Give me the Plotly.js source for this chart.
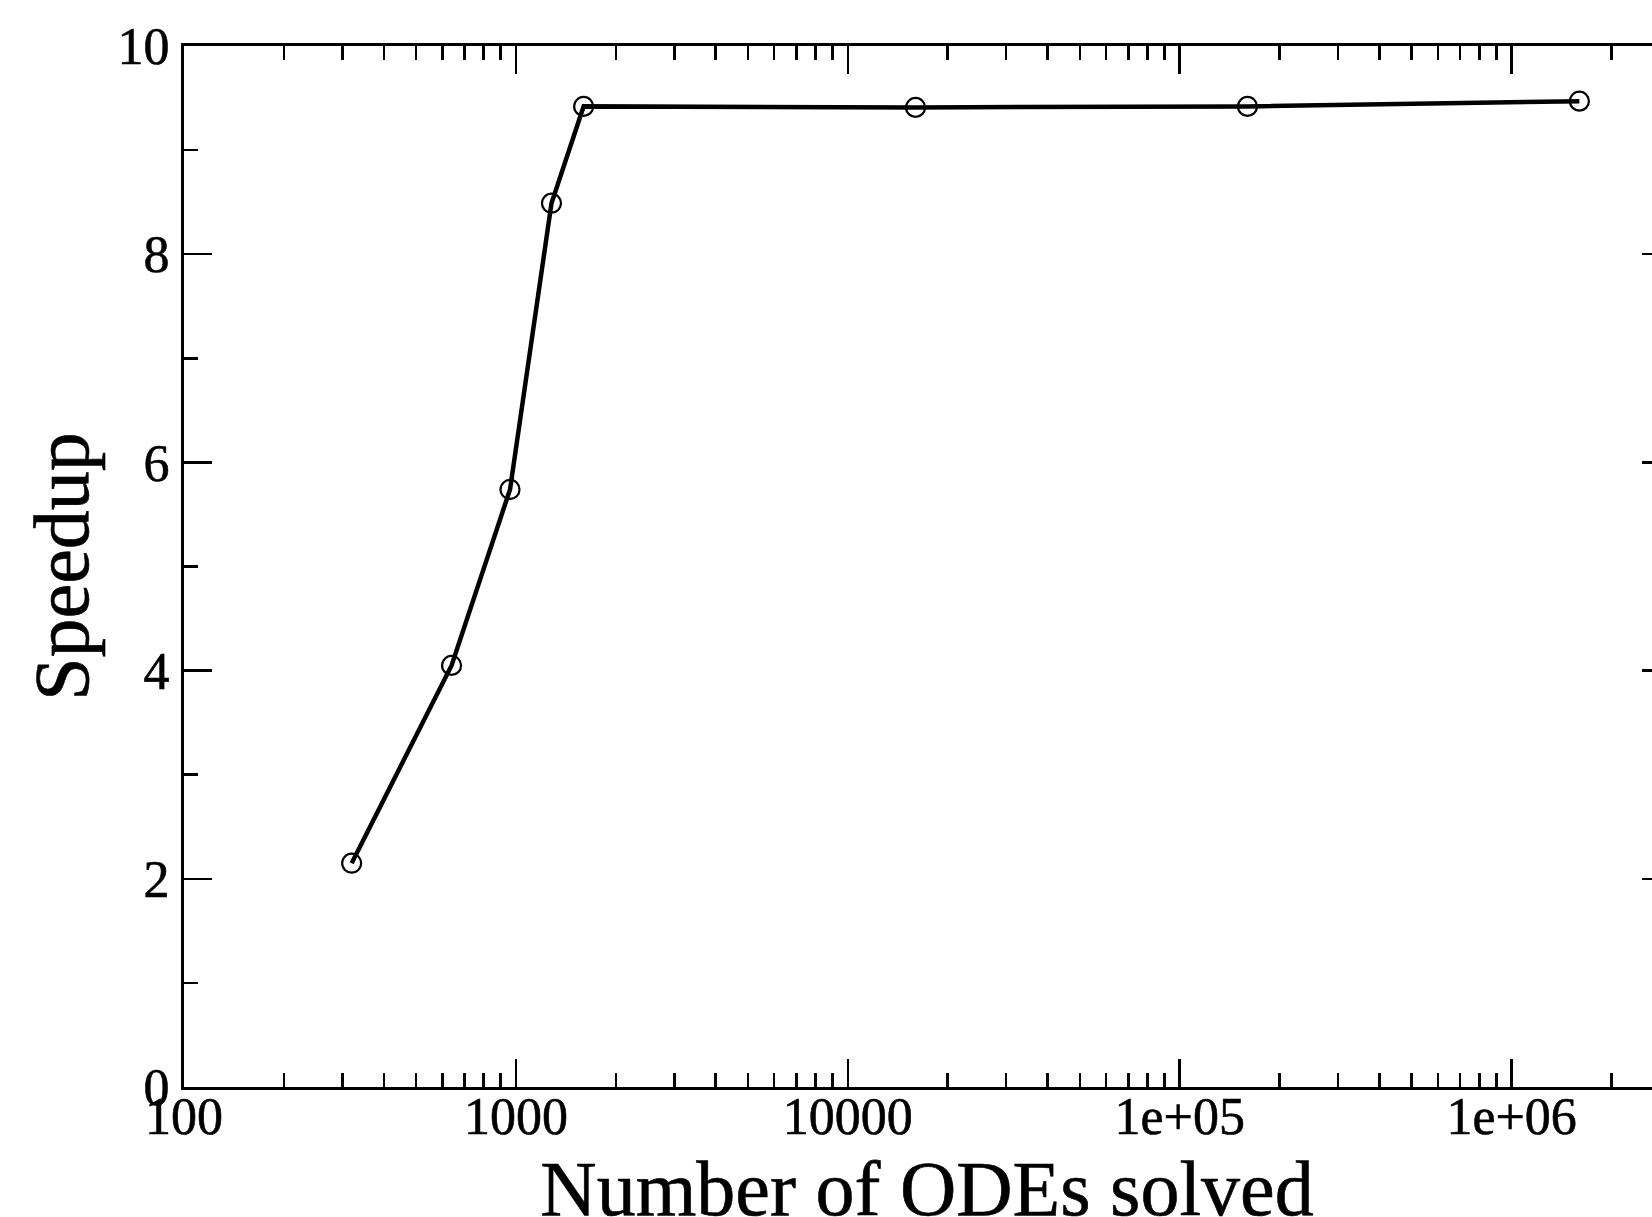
<!DOCTYPE html>
<html>
<head>
<meta charset="utf-8">
<script src="https://cdn.plot.ly/plotly-3.0.1.min.js"></script>
<style>
  html, body { margin: 0; padding: 0; overflow: hidden; background: #fff; }
  #chart { width: 1700px; height: 1250px; }
  #chart text { paint-order: stroke; stroke: #000; stroke-width: 0.6px; }
</style>
</head>
<body>
<div id="chart"></div>
<script>
// Data
const numODEs = [320, 640, 960, 1280, 1600, 16000, 160000, 1600000];
const speedup = [2.15, 4.05, 5.74, 8.49, 9.42, 9.41, 9.42, 9.47];

const xTickVals = [100, 1000, 10000, 100000, 1000000];
const xTickText = ['100', '1000', '10000', '1e+05', '1e+06'];
const yTickVals = [0, 2, 4, 6, 8, 10];
const yTickText = ['0', '2', '4', '6', '8', '10'];

const FONT = 'Liberation Serif, Times New Roman, serif';

const trace = {
  x: numODEs,
  y: speedup,
  type: 'scatter',
  mode: 'lines+markers',
  line: { color: 'black', width: 4.5 },
  marker: { symbol: 'circle-open', size: 19, color: 'black', line: { width: 2.2, color: 'black' } },
  showlegend: false,
  hoverinfo: 'skip'
};

const layout = {
  width: 1700,
  height: 1250,
  margin: { l: 184, r: 29.6, t: 46, b: 163 },
  paper_bgcolor: 'white',
  plot_bgcolor: 'white',
  font: { family: FONT, color: 'black', size: 52 },
  showlegend: false,
  xaxis: {
    type: 'log',
    range: [2, Math.log10(3e6)],
    tickmode: 'array',
    tickvals: xTickVals,
    ticktext: xTickText,
    ticks: 'inside',
    ticklen: 28,
    tickwidth: 2.5,
    tickcolor: 'black',
    showline: true,
    linecolor: 'black',
    linewidth: 3,
    mirror: 'ticks',
    showgrid: false,
    zeroline: false,
    tickfont: { family: FONT, size: 52, color: 'black' },
    ticklabelstandoff: -18,
    minor: { ticks: 'inside', ticklen: 14, tickwidth: 2.5, tickcolor: 'black', dtick: 'D1', showgrid: false },
    title: { text: 'Number of ODEs solved', font: { family: FONT, size: 78, color: 'black' }, standoff: 5 },
    automargin: false
  },
  yaxis: {
    range: [0, 10],
    tickmode: 'array',
    tickvals: yTickVals,
    ticktext: yTickText,
    ticks: 'inside',
    ticklen: 28,
    tickwidth: 2.5,
    tickcolor: 'black',
    showline: true,
    linecolor: 'black',
    linewidth: 3,
    mirror: 'ticks',
    showgrid: false,
    zeroline: false,
    tickfont: { family: FONT, size: 52, color: 'black' },
    ticklabelstandoff: 1,
    minor: { ticks: 'inside', ticklen: 14, tickwidth: 2.5, tickcolor: 'black', dtick: 1, showgrid: false },
    title: { text: 'Speedup', font: { family: FONT, size: 78, color: 'black' }, standoff: 4 },
    automargin: false
  }
};

Plotly.newPlot('chart', [trace], layout, { displayModeBar: false, staticPlot: true });
</script>
</body>
</html>
